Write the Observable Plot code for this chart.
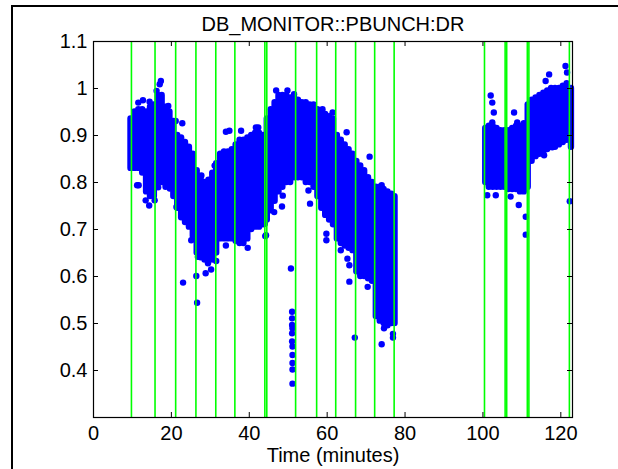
<!DOCTYPE html>
<html><head><meta charset="utf-8">
<script src="https://cdn.jsdelivr.net/npm/d3@7"></script>
<script src="https://cdn.jsdelivr.net/npm/@observablehq/plot@0.6"></script>
<style>
html,body{margin:0;padding:0;background:#fff;}
#wrap{position:relative;width:618px;height:469px;overflow:hidden;background:#fff;}
#fig{position:absolute;left:11px;top:5px;width:660px;height:500px;border:2px solid #000;box-sizing:border-box;}
#chart{position:absolute;left:0;top:0;}
</style></head><body>
<div id="wrap"><div id="fig"></div><div id="chart"></div></div>
<script>
const title = "DB_MONITOR::PBUNCH:DR";
const xLabel = "Time (minutes)";
const xTicks = [0, 20, 40, 60, 80, 100, 120];
const yTicks = [0.4, 0.5, 0.6, 0.7, 0.8, 0.9, 1.0, 1.1];
const yTickLabels = ["0.4", "0.5", "0.6", "0.7", "0.8", "0.9", "1", "1.1"];

// dense core of the point cloud: time, lower and upper envelope
const bandTime = [9.5,10.5,11.5,12.5,13.5,14.5,15.5,16.5,17.5,18.5,19.5,20.5,21.5,22.5,23.5,24.5,25.5,26.5,27.5,28.5,29.5,
  30.5,31.5,32.5,33.5,34.5,35.5,36.5,37.5,38.5,39.5,40.5,41.5,42.5,43.5,44.5,45.5,46.5,47.5,48.5,49.5,
  50.5,51.5,52.5,53.5,54.5,55.5,56.5,57.5,58.5,59.5,60.5,61.5,62.5,63.5,64.5,65.5,66.5,67.5,68.5,69.5,
  70.5,71.5,72.5,73.5,74.5,75.5,76.5,77.3,
  100.6,101.5,102.5,103.5,104.5,105.5,106.5,107.5,108.5,109.5,110.5,111.5,112.5,113.5,114.5,115.5,116.5,117.5,118.5,119.5,120.5,121.5,122.6];
const bandLow = [0.83,0.83,0.83,0.82,0.78,0.77,0.77,0.80,0.80,0.79,0.79,0.77,0.745,0.725,0.715,0.705,0.685,0.65,0.64,0.635,0.635,
  0.635,0.65,0.68,0.68,0.68,0.68,0.675,0.67,0.67,0.68,0.70,0.705,0.705,0.71,0.72,0.74,0.76,0.78,0.79,0.80,
  0.80,0.81,0.81,0.81,0.80,0.80,0.79,0.77,0.745,0.73,0.72,0.71,0.68,0.67,0.665,0.66,0.655,0.61,0.60,0.60,
  0.595,0.59,0.515,0.505,0.50,0.495,0.50,0.50,
  0.80,0.79,0.79,0.79,0.79,0.79,0.785,0.785,0.785,0.78,0.78,0.79,0.845,0.855,0.86,0.865,0.87,0.875,0.875,0.88,0.885,0.89,0.875];
const bandHigh = [0.935,0.95,0.955,0.955,0.95,0.96,0.965,0.985,0.985,0.96,0.95,0.93,0.90,0.895,0.885,0.875,0.86,0.825,0.81,0.80,0.805,
  0.82,0.84,0.86,0.865,0.865,0.87,0.88,0.89,0.89,0.895,0.90,0.905,0.905,0.90,0.935,0.955,0.97,0.985,0.985,0.985,
  0.98,0.98,0.975,0.97,0.97,0.965,0.965,0.955,0.95,0.945,0.94,0.935,0.90,0.89,0.88,0.87,0.86,0.845,0.835,0.825,
  0.81,0.80,0.79,0.79,0.785,0.78,0.775,0.77,
  0.915,0.92,0.92,0.915,0.91,0.91,0.91,0.915,0.92,0.92,0.925,0.965,0.975,0.98,0.985,0.99,0.995,1.0,1.0,1.0,1.005,1.01,1.0];

// scattered individual points
const dotTime = [11.5,12.7,14.4,16.2,17.0,17.3,19.2,21.1,22.8,
  11.2,11.6,13.4,14.3,15.7,16.6,19.6,21.3,25.1,26.8,29.4,28.8,26.4,23.0,26.6,27.7,30.7,31.1,
  34.0,34.9,37.9,41.7,42.3,30.2,31.5,34.0,39.6,44.3,46.4,48.4,48.6,46.9,49.8,51.5,55.2,55.6,44.1,44.0,
  50.7,51.0,51.0,51.0,51.1,51.0,51.0,51.1,51.1,51.1,51.1,51.1,
  58.8,61.4,65.0,70.9,74.0,59.8,59.8,63.5,65.2,65.7,65.7,70.4,67.1,74.6,74.0,76.9,76.9,
  102.0,102.4,102.8,102.4,108.0,108.8,101.1,103.3,107.1,109.2,111.0,111.0,117.0,116.1,121.2,121.6,117.8,113.5,115.7,122.3];
const dotValue = [0.970,0.975,0.972,0.995,1.009,1.016,0.963,0.931,0.926,
  0.794,0.794,0.762,0.751,0.762,0.790,0.787,0.748,0.677,0.642,0.628,0.607,0.601,0.587,0.544,0.815,0.818,0.836,
  0.908,0.910,0.910,0.917,0.917,0.615,0.633,0.666,0.661,0.688,0.737,0.749,0.772,0.996,0.996,0.988,0.783,0.755,0.686,0.712,
  0.617,0.525,0.511,0.497,0.490,0.479,0.462,0.451,0.433,0.416,0.402,0.372,
  0.956,0.949,0.907,0.855,0.794,0.691,0.677,0.656,0.638,0.624,0.589,0.578,0.470,0.490,0.456,0.470,0.478,
  0.985,0.970,0.949,0.928,0.949,0.928,0.773,0.773,0.770,0.752,0.727,0.689,1.030,1.016,1.048,1.034,0.875,0.858,0.858,0.760];

// green vertical event markers
const markerTime = [9.74,15.8,21.1,26.3,31.4,36.3,44.0,44.5,51.9,57.3,62.2,67.3,72.2,77.2,100.4,105.7,106.1,111.4,111.8,122.2];

const band = bandTime.map((t, i) => ({t, lo: bandLow[i], hi: bandHigh[i]}));
const dots = dotTime.map((t, i) => ({t, v: dotValue[i]}));

const W = 618, H = 469, mL = 93, mR = 46, mT = 41, mB = 52;
const fw = W - mL - mR, fh = H - mT - mB, tick = 5;
const blue = "#0000ff";

const chart = Plot.plot({
  width: W, height: H,
  marginLeft: mL, marginRight: mR, marginTop: mT, marginBottom: mB,
  style: {fontFamily: "'Liberation Sans', Arial, Helvetica, sans-serif", fontSize: "20px", color: "#000", background: "transparent", overflow: "visible"},
  x: {domain: [0, 123], label: null},
  y: {domain: [0.3, 1.1], label: null},
  marks: [
    Plot.ruleX(band, {x: "t", y1: "lo", y2: "hi", stroke: blue, strokeWidth: 6.4, strokeLinecap: "round"}),
    Plot.dot(dots, {x: "t", y: "v", r: 3.2, fill: blue, stroke: null}),
    Plot.ruleX(markerTime, {stroke: "#00ff00", strokeWidth: 1.6}),
    Plot.frame({stroke: "#000", strokeWidth: 1.2}),
    Plot.ruleX(xTicks, {insetTop: fh - tick, stroke: "#000"}),
    Plot.ruleX(xTicks, {insetBottom: fh - tick, stroke: "#000"}),
    Plot.ruleY(yTicks, {insetRight: fw - tick, stroke: "#000"}),
    Plot.ruleY(yTicks, {insetLeft: fw - tick, stroke: "#000"}),
    Plot.axisX(xTicks, {anchor: "bottom", tickSize: 0, tickPadding: 8, tickFormat: d => String(d), label: null}),
    Plot.axisY(yTicks, {anchor: "left", tickSize: 0, tickPadding: 6, tickFormat: d => yTickLabels[yTicks.indexOf(d)], label: null}),
    Plot.text([title], {text: d => d, frameAnchor: "top", lineAnchor: "bottom", dy: -10.3, fontSize: 20, fill: "#000"}),
    Plot.text([xLabel], {text: d => d, frameAnchor: "bottom", lineAnchor: "bottom", dy: 44.7, fontSize: 20, fill: "#000"})
  ]
});
document.getElementById("chart").appendChild(chart);
</script>
</body></html>
